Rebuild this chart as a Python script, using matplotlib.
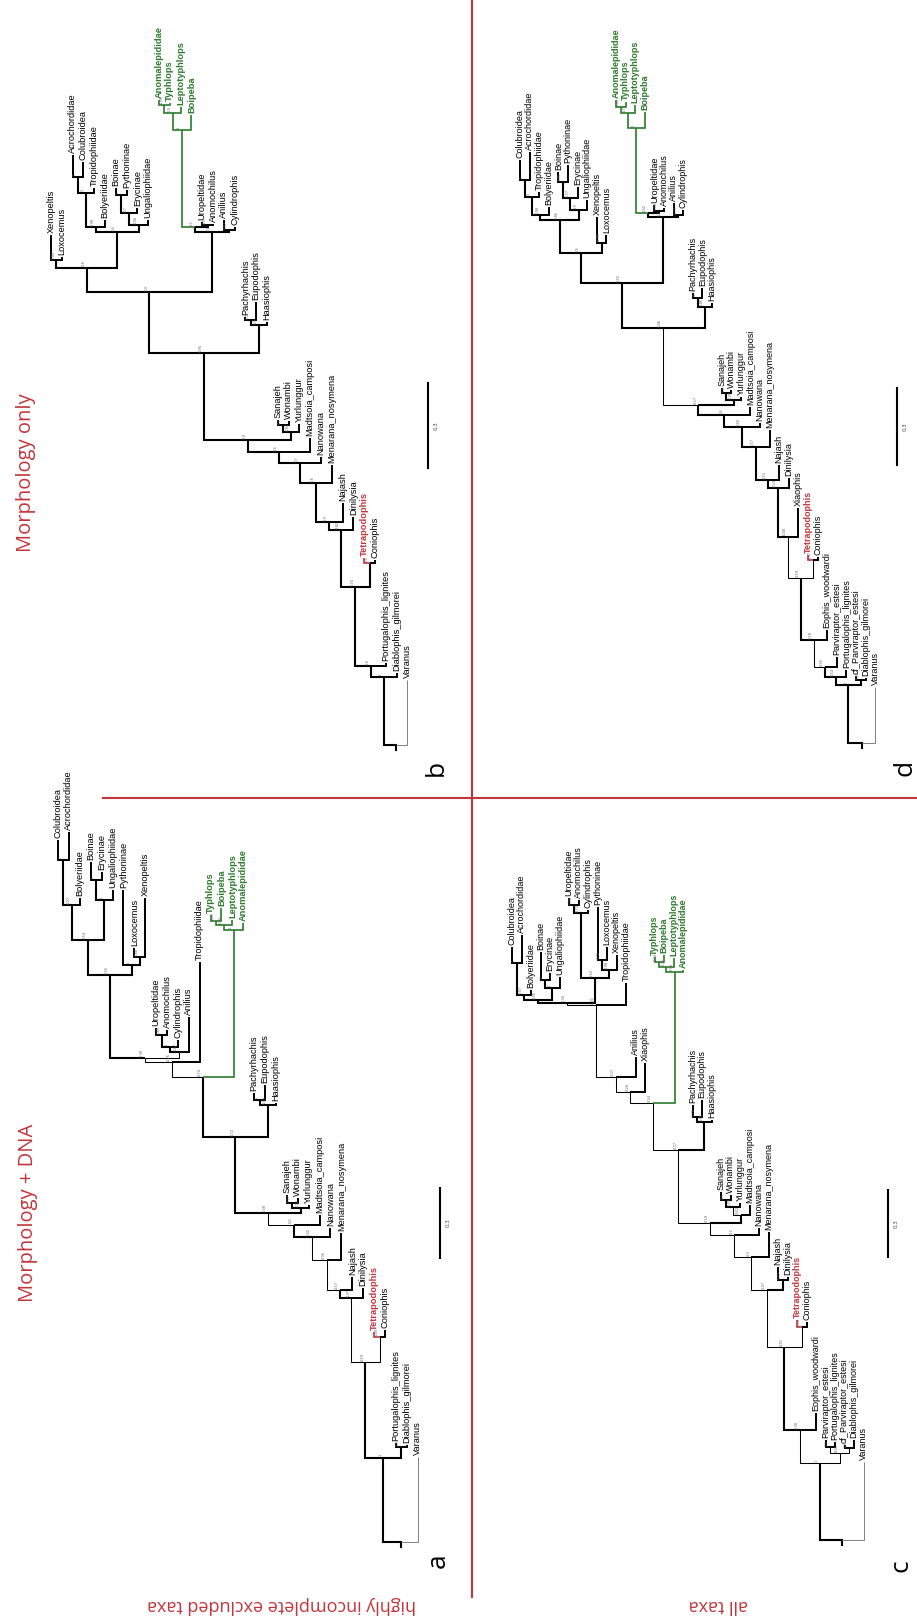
import matplotlib
matplotlib.use('Agg')
import matplotlib.pyplot as plt

W, H = 917, 1618
RED = '#c4343a'
GREEN = '#2b7a2b'

# Newick pieces: value after ':' is the node depth from the root (tree units, scale bar = 0.3),
# label after ')' is the posterior support of that node.

# ---- b: morphology only, incomplete taxa excluded ----
b_core = ("((Xenopeltis:1.802,Loxocemus:1.724)0.99:1.714,"
          "((((Acrochordidae:2.085,Colubroidea:2.060)1:2.007,Tropidophiidae:1.968)1:1.951,Bolyeriidae:1.855)0.98:1.830,"
          "(((Boinae:1.968,Pythoninae:1.961)1:1.943,Erycinae:1.898)0.7:1.880,Ungaliophiidae:1.855)0.96:1.837)0.6:1.813)0.8:1.686")
b_scol = "(((Anomalepididae:2.279,Typhlops:2.269)0.99:2.261,Leptotyphlops:2.254)0.9:2.233,Boipeba:2.226)1:2.173"
b_alet = (f"(({b_scol},(Uropeltidae:1.848,Anomochilus:1.841)0.9:1.837)0.5:1.830,"
          "(Anilius:1.855,Cylindrophis:1.830)0.97:1.820)0.6:1.813")
b_crown = f"({b_core},{b_alet})0.9:1.601"
# stem lineages from the crown towards the root: (sister clade, support, depth)
b_stem = [
    ("((Pachyrhachis:1.512,Eupodophis:1.565)0.77:1.502,Haasiophis:1.495)0.9:1.484", 0.95, 1.385),
    ("((Sanajeh:1.148,Wonambi:1.145)0.7:1.131,Yurlunggur:1.134)0.84:1.106", 0.9, 1.078),
    ("Madtsoia_camposi:1.085", 0.6, 1.035),
    ("Nanowana:1.018", 0.7, 0.996),
    ("Menarana_nosymena:0.989", 0.8, 0.926),
    ("Najash:0.855", 0.9, 0.788),
    ("Dinilysia:0.806", 0.82, 0.760),
    ("(Tetrapodophis:0.661,Coniophis:0.654)0.6:0.643", 0.74, 0.558),
    ("Portugalophis_lignites:0.290", 0.8, 0.279),
    ("Diablophis_gilmorei:0.254", 1, 0.240),
    ("Varanus:0.230", '', 0),
]

# ---- d: morphology only, all taxa ----
d_cg = "(((Colubroidea:2.268,Acrochordidae:2.300)1:2.191,Tropidophiidae:2.144)1:2.125,Bolyeriidae:2.086)0.98:2.054"
d_bg = "(((Boinae:2.222,Pythoninae:2.249)0.95:2.183,Erycinae:2.163)0.77:2.121,Ungaliophiidae:2.113)0.9:2.074"
d_core = f"(({d_cg},{d_bg})0.86:2.035,(Xenopeltis:2.047,Loxocemus:1.977)0.98:1.946)0.5:1.907"
d_scol = "(((Anomalepididae:2.502,Typhlops:2.494)0.85:2.475,Leptotyphlops:2.482)0.74:2.451,Boipeba:2.455)1:2.393"
d_alet = (f"(({d_scol},(Uropeltidae:2.093,Anomochilus:2.082)0.88:2.070)0.62:2.062,"
          "(Anilius:2.101,Cylindrophis:2.074)0.73:2.054)0.7:2.047")
d_crown = f"({d_core},{d_alet})0.55:1.790"
d_stem = [
    ("((Pachyrhachis:1.751,Eupodophis:1.770)0.74:1.732,Haasiophis:1.712)0.86:1.696", 0.46, 1.615),
    ("((Sanajeh:1.381,Wonambi:1.374)0.9:1.362,Yurlunggur:1.346)0.78:1.335", 0.57, 1.315),
    ("Madtsoia_camposi:1.307", 0.6, 1.276),
    ("Nanowana:1.245", 0.56, 1.230),
    ("Menarana_nosymena:1.218", 0.57, 1.152),
    ("Najash:1.082", 0.51, 1.023),
    ("Dinilysia:1.031", 0.53, 0.992),
    ("Xiaophis:0.914", 0.48, 0.802),
    ("(Tetrapodophis:0.732,Coniophis:0.724)0.47:0.712", 0.59, 0.642),
    ("Eophis_woodwardi:0.440", 0.18, 0.401),
    ("Parviraptor_estesi:0.335", 0.55, 0.296),
    ("Portugalophis_lignites:0.284", 0.54, 0.257),
    ("(cf_Parviraptor_estesi:0.261,Diablophis_gilmorei:0.253)0.52:0.245", 1, 0.226),
    ("Varanus:0.218", '', 0),
]

# ---- a: morphology + DNA, incomplete taxa excluded ----
a_core1 = ("(((Colubroidea:3.013,Acrochordidae:3.047)1:2.927,Bolyeriidae:2.764)0.97:2.734,"
           "((Boinae:2.918,Erycinae:2.876)1:2.841,Ungaliophiidae:2.798)1:2.755)0.54:2.584")
a_plx = "(Pythoninae:2.798,(Loxocemus:2.549,Xenopeltis:2.764)0.88:2.511)1:2.476"
a_uaca = "(((Uropeltidae:2.206,Anomochilus:2.197)0.85:2.176,Cylindrophis:2.155)1:2.124,Anilius:2.253)0.47:2.103"
a_crown = f"((({a_core1},{a_plx})0.55:2.433,{a_uaca})0.38:2.077,Tropidophiidae:2.489)0.26:2.060"
a_stem = [
    ("(((Typhlops:2.691,Boipeba:2.721)0.65:2.665,Leptotyphlops:2.670)0.84:2.648,Anomalepididae:2.657)1:2.627", 0.74, 1.996),
    ("((Pachyrhachis:1.927,Eupodophis:1.961)1:1.897,Haasiophis:1.884)0.89:1.876", 0.72, 1.738),
    ("((Sanajeh:1.489,Wonambi:1.476)0.97:1.455,Yurlunggur:1.446)0.92:1.433", 0.38, 1.412),
    ("Madtsoia_camposi:1.403", 0.5, 1.361),
    ("Nanowana:1.348", 0.32, 1.309),
    ("Menarana_nosymena:1.326", 0.36, 1.210),
    ("Najash:1.137", 0.57, 1.082),
    ("Dinilysia:1.090", 0.37, 1.047),
    ("(Tetrapodophis:0.901,Coniophis:0.910)0.49:0.880", 0.59, 0.773),
    ("(Portugalophis_lignites:0.425,Diablophis_gilmorei:0.416)0.9:0.408", 1, 0.361),
    ("Varanus:0.365", '', 0),
]

# ---- c: morphology + DNA, all taxa ----
c_cc2 = ("(((Colubroidea:2.659,Acrochordidae:2.713)1:2.587,Bolyeriidae:2.466)0.97:2.444,"
         "((Boinae:2.637,Erycinae:2.543)1:2.511,Ungaliophiidae:2.525)1:2.475)0.65:2.422")
c_cc3 = ("(((Uropeltidae:2.879,Anomochilus:2.870)0.85:2.848,Cylindrophis:2.825)0.72:2.812,"
         "((Pythoninae:2.839,Loxocemus:2.659)0.72:2.601,Xenopeltis:2.623)0.98:2.556)0.52:2.520")
c_crown = (f"(((({c_cc2},{c_cc3})0.34:2.408,Tropidophiidae:2.498)0.31:2.399,"
           "Anilius:2.166)0.37:2.076,Xiaophis:2.139)0.28:2.009")
c_stem = [
    ("(((Typhlops:2.614,Boipeba:2.623)0.55:2.592,Leptotyphlops:2.610)0.36:2.570,Anomalepididae:2.556)0.98:2.547", 0.34, 1.960),
    ("((Pachyrhachis:1.951,Eupodophis:1.973)0.78:1.897,Haasiophis:1.883)0.85:1.874", 0.37, 1.749),
    ("(((Sanajeh:1.561,Wonambi:1.547)0.5:1.525,Yurlunggur:1.511)0.39:1.493,Madtsoia_camposi:1.502)0.62:1.457", 0.19, 1.422),
    ("Nanowana:1.399", 0.2, 1.368),
    ("Menarana_nosymena:1.380", 0.3, 1.269),
    ("(Najash:1.224,Dinilysia:1.179)0.77:1.166", 0.47, 1.121),
    ("(Tetrapodophis:0.987,Coniophis:0.978)0.24:0.955", 0.61, 0.865),
    ("Eophis_woodwardi:0.570", 0.38, 0.493),
    ("((Parviraptor_estesi:0.448,Portugalophis_lignites:0.439)0.3:0.417,"
     "(cf_Parviraptor_estesi:0.426,Diablophis_gilmorei:0.448)0.3:0.413)0.45:0.390", 1, 0.345),
    ("Varanus:0.350", '', 0),
]

green_taxa = ['Anomalepididae', 'Typhlops', 'Leptotyphlops', 'Boipeba']
red_taxa = ['Tetrapodophis']

# panel placement in pixels: first tip x, tip spacing, root y, pixels per unit, box
panels = {
    'b': dict(crown=b_crown, stem=b_stem, tip0=51, dx=10.8, root=745, ppu=283, font=6.7,
              box=(0, 0, 470, 798), bar=(428, 468), letter=(436, 768)),
    'd': dict(crown=d_crown, stem=d_stem, tip0=520, dx=9.6, root=743, ppu=257, font=6.5,
              box=(473, 0, 917, 798), bar=(897, 465), letter=(905, 768)),
    'a': dict(crown=a_crown, stem=a_stem, tip0=58, dx=10.9, root=1542, ppu=233, font=6.7,
              box=(0, 799, 470, 1618), bar=(440, 1258), letter=(438, 1561)),
    'c': dict(crown=c_crown, stem=c_stem, tip0=512, dx=9.5, root=1540, ppu=223, font=6.5,
              box=(473, 799, 917, 1618), bar=(888, 1257), letter=(901, 1566)),
}


def build(crown, stem):
    s = crown
    for sister, sup, h in stem:
        s = f"({s},{sister}){sup}:{h}"
    return s


def parse(s):
    s = ''.join(s.split())
    pos = 0

    def node():
        nonlocal pos
        n = {'kids': [], 'name': '', 'sup': '', 'h': 0.0}
        if s[pos] == '(':
            pos += 1
            while True:
                n['kids'].append(node())
                c = s[pos]
                pos += 1
                if c == ')':
                    break
        st = pos
        while pos < len(s) and s[pos] not in ':,()':
            pos += 1
        lab = s[st:pos]
        if n['kids']:
            n['sup'] = lab
        else:
            n['name'] = lab
        if pos < len(s) and s[pos] == ':':
            pos += 1
            st = pos
            while pos < len(s) and s[pos] not in ',()':
                pos += 1
            n['h'] = float(s[st:pos])
        return n
    return node()


def layout(n, tips):
    if not n['kids']:
        n['x'] = len(tips)
        tips.append(n['name'])
        n['tips'] = [n['name']]
        return
    n['tips'] = []
    for k in n['kids']:
        layout(k, tips)
        n['tips'] += k['tips']
    n['x'] = (n['kids'][0]['x'] + n['kids'][-1]['x']) / 2


def style(n):
    if all(t in green_taxa for t in n['tips']):
        return GREEN, 1.2
    if n['tips'] == ['Varanus']:
        return '#808080', 0.7
    if n['tips'] == ['Tetrapodophis']:
        return RED, 1.2
    if not n['kids']:
        return 'black', 1.4
    sup = float(n['sup']) if n['sup'] else 1
    return 'black', (1.5 if sup >= 0.5 else 0.75)


def draw(ax, n, font):
    for k in n['kids']:
        col, lw = style(k)
        ax.plot([n['x'], k['x'], k['x']], [n['h'], n['h'], k['h']], color=col, lw=lw,
                solid_joinstyle='miter', solid_capstyle='butt')
        draw(ax, k, font)
    if n['kids']:
        if n['sup']:
            ax.annotate(n['sup'], (n['x'], n['h']), xytext=(-0.8, 1.0), textcoords='offset points',
                        rotation=90, ha='right', va='bottom', fontsize=2.6, color='#666666')
    else:
        col = 'black'
        weight = 'normal'
        if n['name'] in green_taxa:
            col, weight = GREEN, 'bold'
        if n['name'] in red_taxa:
            col, weight = RED, 'bold'
        ax.annotate(n['name'], (n['x'], n['h']), xytext=(0, 1.5), textcoords='offset points',
                    rotation=90, ha='center', va='bottom', fontsize=font, color=col,
                    fontweight=weight, family='Liberation Sans')


fig = plt.figure(figsize=(W / 100, H / 100), dpi=100)
bg = fig.add_axes([0, 0, 1, 1])
bg.set_xlim(0, W)
bg.set_ylim(H, 0)
bg.axis('off')
bg.plot([472, 472], [0, 1597], color=RED, lw=1.5)
bg.plot([103, W], [798, 798], color=RED, lw=1.5)
head = dict(ha='center', va='center', color=RED, family='Open Sans')
bg.text(26, 473, 'Morphology only', rotation=90, fontsize=14.5, **head)
bg.text(28, 1213, 'Morphology + DNA', rotation=90, fontsize=14.5, **head)
bg.text(282, 1605, 'highly incomplete excluded taxa', rotation=180, fontsize=13, **head)
bg.text(718, 1605, 'all taxa', rotation=180, fontsize=13, **head)

for key, p in panels.items():
    x0, y0, x1, y1 = p['box']
    ax = fig.add_axes([x0 / W, 1 - y1 / H, (x1 - x0) / W, (y1 - y0) / H])
    ax.set_xlim((x0 - p['tip0']) / p['dx'], (x1 - p['tip0']) / p['dx'])
    ax.set_ylim((p['root'] - y1) / p['ppu'], (p['root'] - y0) / p['ppu'])
    ax.axis('off')
    root = parse(build(p['crown'], p['stem']))
    layout(root, [])
    ax.plot([root['x'], root['x']], [root['h'], root['h'] - 5 / p['ppu']], color='black', lw=1.5)
    draw(ax, root, p['font'])
    bx = (p['bar'][0] - p['tip0']) / p['dx']
    by = (p['root'] - p['bar'][1]) / p['ppu']
    ax.plot([bx, bx], [by, by + 0.3], color='black', lw=1.5)
    ax.annotate('0.3', (bx, by + 0.15), xytext=(6, 0), textcoords='offset points', rotation=90,
                ha='center', va='center', fontsize=4, color='#444444')
    lx, ly = p['letter']
    bg.text(lx, ly, key, rotation=90, ha='center', va='center', fontsize=19, family='Open Sans')

fig.savefig('out.png', dpi=100)
